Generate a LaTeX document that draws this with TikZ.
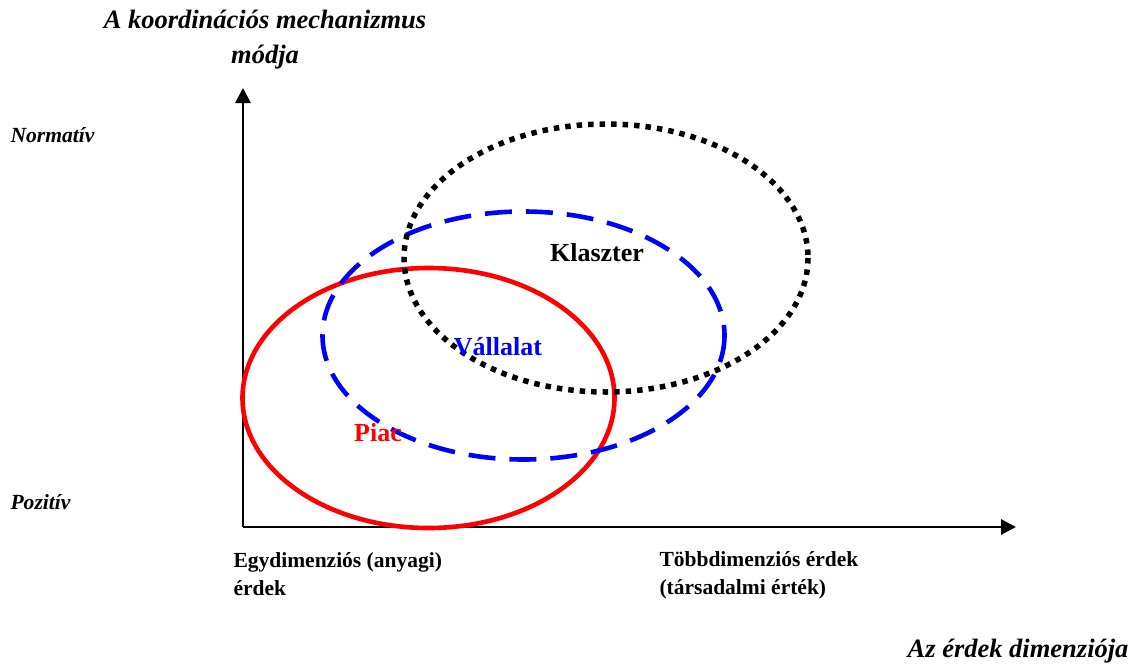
\documentclass[tikz,border=0pt]{standalone}
\usepackage{fontspec}
\setmainfont{Liberation Serif}
\usetikzlibrary{arrows.meta}
\begin{document}
\begin{tikzpicture}[x=1pt,y=-1pt,
  axis/.style={line width=2.8pt,-{Triangle[length=15pt,width=15pt]}},
  titletxt/.style={font=\fontsize{26.5}{35}\selectfont\bfseries\itshape,align=center},
  sidetxt/.style={font=\fontsize{21.6}{24}\selectfont\bfseries\itshape,anchor=west},
  bottxt/.style={font=\fontsize{21.5}{28}\selectfont\bfseries,align=left,anchor=west},
  lbl/.style={font=\fontsize{26}{30}\selectfont\bfseries}]
\useasboundingbox (0,0) rectangle (1140,664);
\coordinate (O) at (243,527);
\coordinate (Ytip) at (243,88);
\coordinate (Xtip) at (1016,527);
\draw[axis] (O) -- (Ytip);
\draw[axis] (O) -- (Xtip);
% ellipses
\draw[red, line width=4.6pt] (428.5,398) ellipse [x radius=186, y radius=130];
\draw[blue, line width=4.6pt, dash pattern=on 27pt off 14pt] (523.5,335.5) ellipse [x radius=201, y radius=124];
\draw[black, line width=5.5pt, dash pattern=on 5.5pt off 6pt] (606,258) ellipse [x radius=202, y radius=134];
% labels
\node[lbl] (klaszter) at (597,253) {Klaszter};
\node[lbl, text=blue] (vallalat) at (498,347) {Vállalat};
\node[lbl, text=red] (piac) at (378,433) {Piac};
\node[titletxt] (title) at (265,40) {A koordinációs mechanizmus\\módja};
\node[sidetxt] (norm) at (7,135) {Normatív};
\node[sidetxt] (poz) at (7,502) {Pozitív};
\node[bottxt] (egy) at (230,574) {Egydimenziós (anyagi)\\érdek};
\node[bottxt] (tobb) at (656,575) {Többdimenziós érdek\\(társadalmi érték)};
\node[font=\fontsize{26.5}{30}\selectfont\bfseries\itshape, anchor=east] (azerdek) at (1132,651) {Az érdek dimenziója};
\end{tikzpicture}
\end{document}
